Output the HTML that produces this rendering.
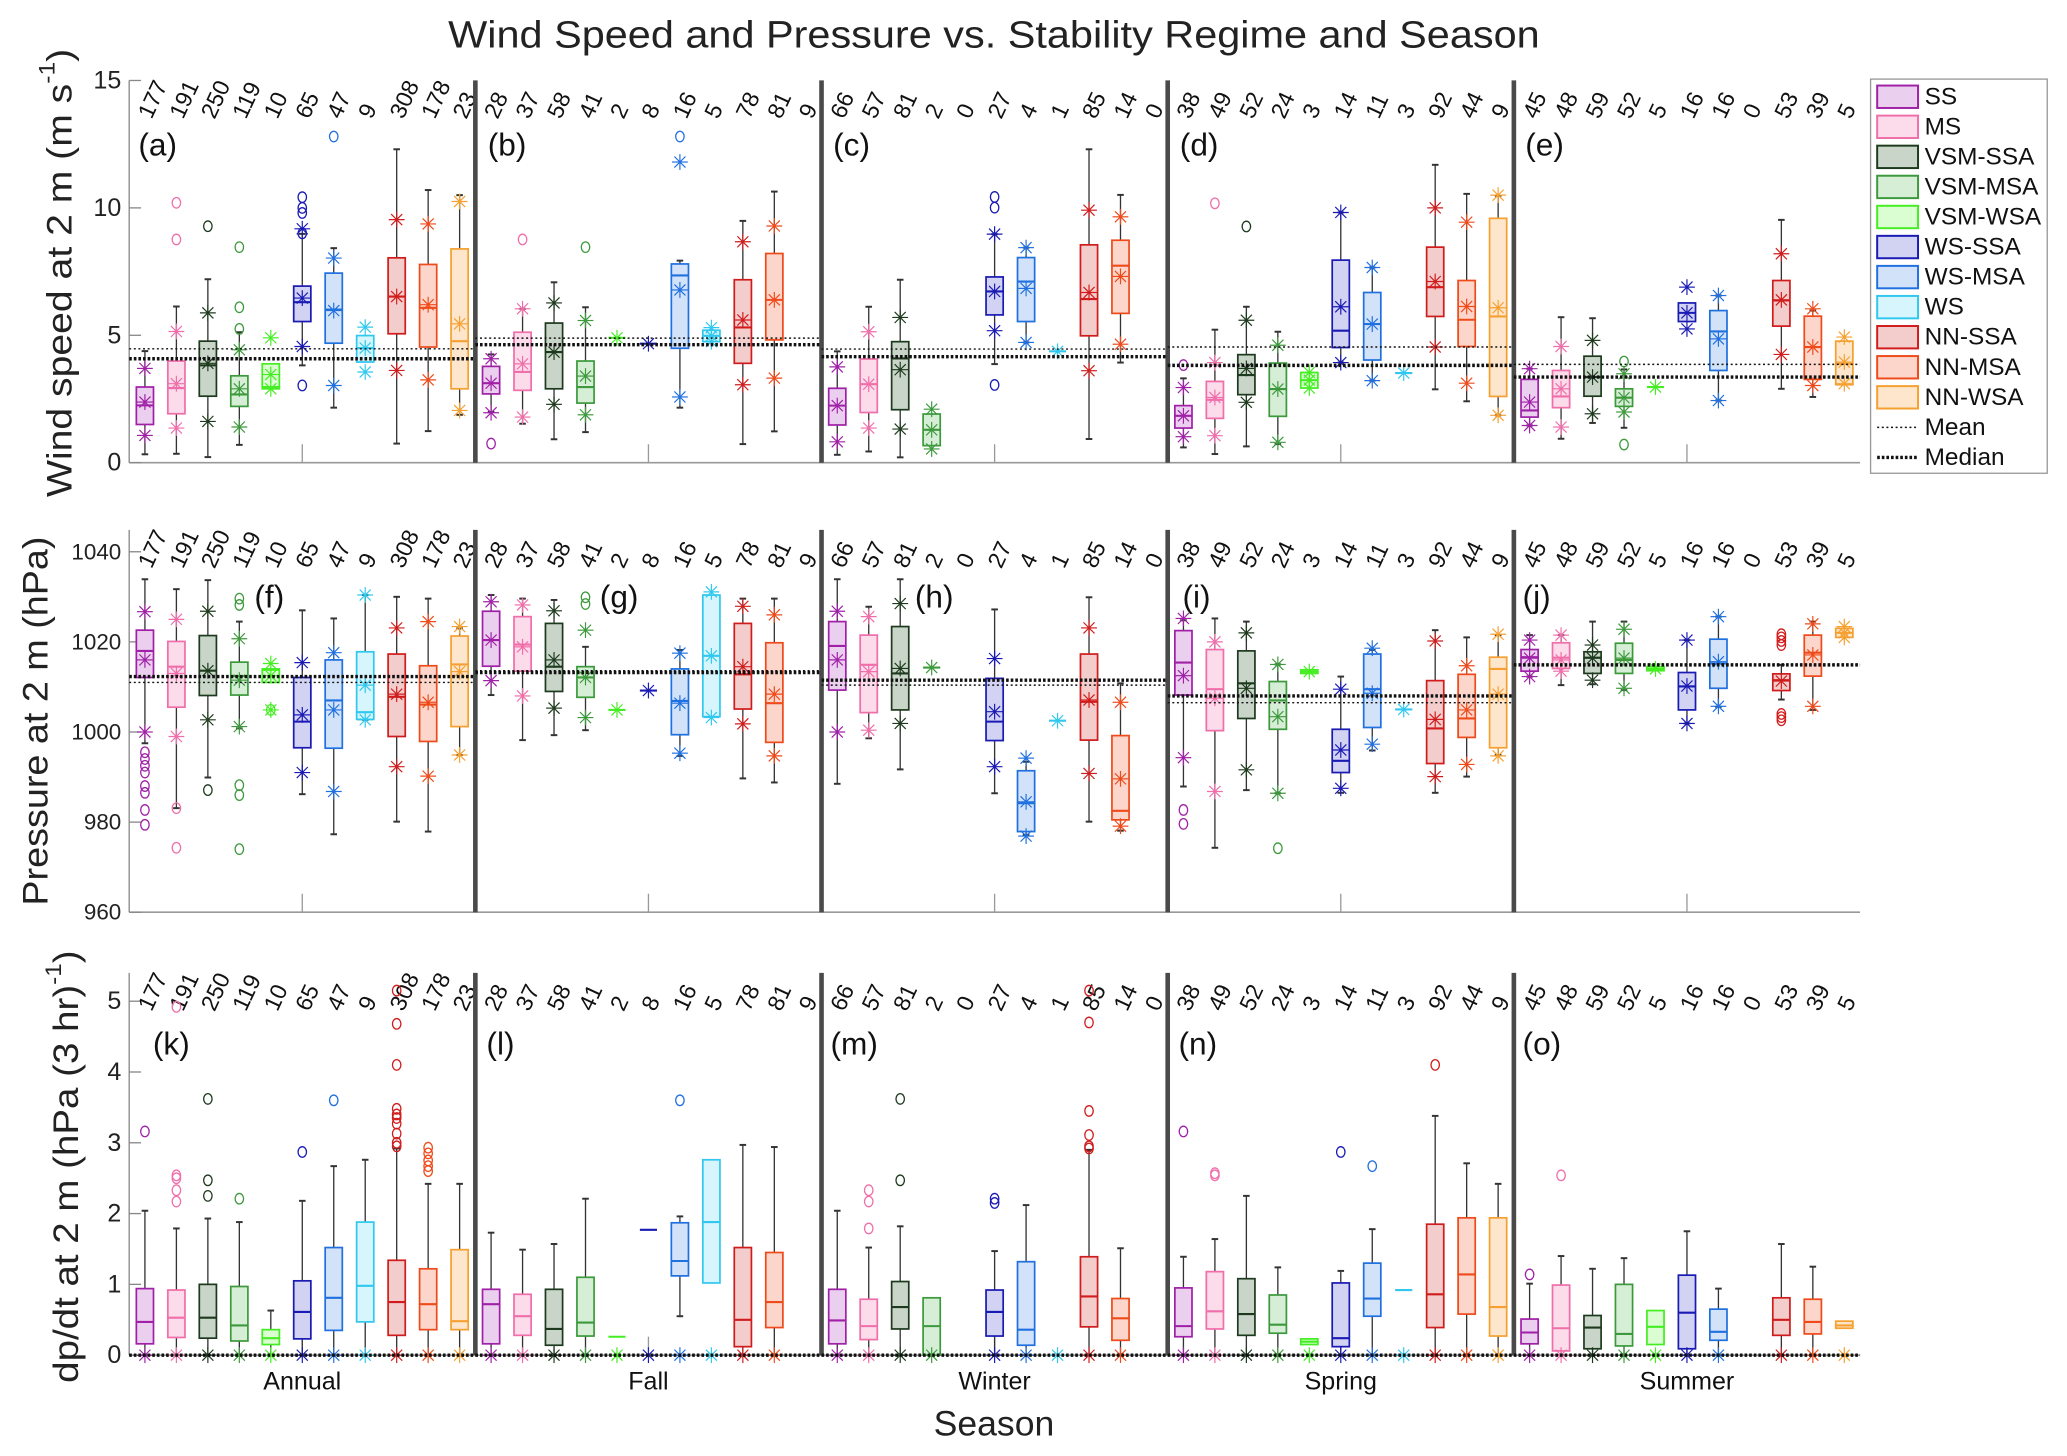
<!DOCTYPE html>
<html><head><meta charset="utf-8"><style>
html,body{margin:0;padding:0;background:#fff;}
svg{display:block;}
text{font-family:"Liberation Sans",sans-serif;}
</style></head><body>
<svg id="chart" xmlns="http://www.w3.org/2000/svg" width="2067" height="1456" viewBox="0 0 1568 1104.5" preserveAspectRatio="none">
<text x="754" y="36" text-anchor="middle" font-size="29" textLength="828" lengthAdjust="spacingAndGlyphs" fill="#222">Wind Speed and Pressure vs. Stability Regime and Season</text>
<text transform="translate(45,207) rotate(-90)" text-anchor="middle" dominant-baseline="central" font-size="27" textLength="340" lengthAdjust="spacingAndGlyphs" fill="#222">Wind speed at 2 m (m s<tspan baseline-shift="super" font-size="17">-1</tspan>)</text>
<text transform="translate(27,547) rotate(-90)" text-anchor="middle" dominant-baseline="central" font-size="27" textLength="280" lengthAdjust="spacingAndGlyphs" fill="#222">Pressure at 2 m (hPa)</text>
<text transform="translate(50,885) rotate(-90)" text-anchor="middle" dominant-baseline="central" font-size="27" textLength="328" lengthAdjust="spacingAndGlyphs" fill="#222">dp/dt at 2 m (hPa (3 hr)<tspan baseline-shift="super" font-size="17">-1</tspan>)</text>
<text x="754" y="1089" text-anchor="middle" font-size="27" fill="#222">Season</text>
<g id="plots"></g>
<g id="legend"></g>
</svg>
<script>
const n = null;
const seasons = ['Annual','Fall','Winter','Spring','Summer'];
const regimes = ['SS','MS','VSM-SSA','VSM-MSA','VSM-WSA','WS-SSA','WS-MSA','WS','NN-SSA','NN-MSA','NN-WSA'];
const counts = [
 [177,191,250,119,10,65,47,9,308,178,23],
 [28,37,58,41,2,8,16,5,78,81,9],
 [66,57,81,2,0,27,4,1,85,14,0],
 [38,49,52,24,3,14,11,3,92,44,9],
 [45,48,59,52,5,16,16,0,53,39,5]];
const panelLetters = [['a','b','c','d','e'],['f','g','h','i','j'],['k','l','m','n','o']];

// ---------- Wind speed ----------
const windQ1 = [
 [1.50,1.92,2.61,2.21,2.90,5.54,4.69,3.95,5.06,4.54,2.90],
 [2.70,2.84,2.90,2.34,n,n,4.49,4.75,3.90,4.82,n],
 [1.48,1.97,2.08,0.67,n,5.80,5.54,n,4.98,5.86,n],
 [1.36,1.74,2.67,1.82,2.93,4.52,4.03,n,5.74,4.56,2.60],
 [1.79,2.16,2.61,2.21,n,5.54,3.62,n,5.36,3.27,3.06]];
const windMed = [
 [2.25,2.93,3.82,2.68,2.97,6.30,6.01,4.50,6.52,6.08,4.77],
 [3.12,3.56,4.34,2.97,4.90,4.67,7.35,4.98,5.31,6.39,n],
 [2.24,3.08,4.09,1.29,n,6.72,7.11,4.37,6.42,7.73,n],
 [1.84,2.47,3.44,2.89,3.24,5.18,5.44,3.52,6.89,5.61,5.74],
 [2.05,2.60,3.36,2.55,2.97,5.88,5.15,n,6.37,4.54,3.88]];
const windQ3 = [
 [2.97,3.99,4.77,3.41,3.88,6.93,7.44,4.99,8.04,7.78,8.39],
 [3.78,5.12,5.48,3.99,n,n,7.80,5.20,7.18,8.21,n],
 [2.92,4.07,4.75,1.91,n,7.29,8.05,n,8.55,8.73,n],
 [2.24,3.19,4.24,3.91,3.54,7.95,6.68,n,8.46,7.15,9.59],
 [3.27,3.62,4.18,2.90,n,6.27,5.97,n,7.15,5.75,4.77]];
const windLo = [
 [0.33,0.35,0.22,0.70,n,3.82,2.16,n,0.75,1.24,1.88],
 [1.99,1.53,0.92,1.20,n,n,2.16,n,0.73,1.23,n],
 [0.31,0.44,0.21,n,n,3.87,4.72,n,0.93,3.93,n],
 [0.60,0.34,0.64,0.73,n,3.93,3.22,n,2.88,2.41,1.86],
 [1.46,0.94,1.56,1.37,n,n,2.44,n,2.90,2.58,n]];
const windHi = [
 [4.38,6.13,7.20,5.12,n,8.98,8.42,n,12.3,10.7,10.5],
 [4.25,6.04,7.08,6.10,n,n,7.93,n,9.49,10.64,n],
 [4.37,6.12,7.18,n,n,8.97,8.44,n,12.3,10.51,n],
 [3.31,5.22,6.12,5.14,n,9.82,7.66,n,11.69,10.55,10.48],
 [3.69,5.71,5.67,3.66,n,n,6.56,n,9.53,5.97,n]];
const windMean = [
 [2.38,3.10,3.90,2.90,3.46,6.46,5.97,4.50,6.52,6.20,5.45],
 [3.12,3.88,4.34,3.40,4.90,4.67,6.78,4.98,5.60,6.39,n],
 [2.24,3.08,3.65,1.29,n,6.72,6.84,4.37,6.68,7.31,n],
 [1.84,2.56,3.70,2.89,3.24,6.12,5.44,3.52,7.11,6.13,6.08],
 [2.38,2.90,3.36,2.55,2.97,5.88,4.86,n,6.39,4.54,3.95]];
const windPLo = [
 [1.07,1.36,1.62,1.40,2.90,4.56,3.03,3.56,3.62,3.25,2.05],
 [1.96,1.79,2.29,1.88,n,n,2.58,4.75,3.06,3.32,n],
 [0.82,1.36,1.32,0.54,n,5.18,4.72,n,3.61,4.65,n],
 [1.02,1.06,2.37,0.80,2.93,3.93,3.22,n,4.54,3.12,1.86],
 [1.46,1.40,1.92,1.99,n,5.25,2.44,n,4.25,3.03,3.10]];
const windPHi = [
 [3.70,5.15,5.88,4.43,4.90,9.18,8.03,5.32,9.54,9.37,10.25],
 [4.08,6.04,6.27,5.58,n,n,11.8,5.30,8.67,9.29,n],
 [3.76,5.14,5.70,2.10,n,8.97,8.44,n,9.91,9.65,n],
 [2.95,3.93,5.59,4.61,3.54,9.82,7.66,n,10.0,9.44,10.5],
 [3.69,4.56,4.80,3.49,n,6.89,6.56,n,8.20,6.04,4.93]];
const windOut = [
 [[],[10.2,8.76],[9.28],[8.46,6.1,5.25],[],[10.42,10.0,9.8,9.0,3.03],[12.8],[],[],[],[]],
 [[0.75],[8.76],[],[8.46],[],[],[12.8],[],[],[],[]],
 [[],[],[],[],[],[10.43,10.01,3.05],[],[],[],[],[]],
 [[3.83],[10.18],[9.27],[],[],[],[],[],[],[],[]],
 [[],[],[],[3.97,0.71],[],[],[],[],[],[],[]]];
const windMeanLine = [4.47,4.89,4.46,4.54,3.86];
const windMedianLine = [4.08,4.63,4.16,3.82,3.36];
const windTicks = [0,5,10,15];

// ---------- Pressure ----------
const presQ1 = [
 [1012.1,1005.5,1008.1,1008.2,1011,996.5,996.4,1002.8,999,997.9,1001.2],
 [1014.6,1013.5,1009,1007.7,n,n,999.4,1003.4,1005.1,997.7,n],
 [1009.3,1004.3,1004.9,n,n,998.1,977.9,n,998.2,980.5,n],
 [1008.2,1000.3,1003,1000.6,1013,991,1001,n,993,998.8,996.5],
 [1013.5,1014.1,1013,1013,1013.6,1004.9,1009.7,n,1009.2,1012.4,1021]];
const presMed = [
 [1018,1014.5,1013.6,1012.4,1013.8,1002.3,1007,1004.4,1007.8,1006.1,1015],
 [1020.4,1019.4,1014.5,1012.1,1004.9,1009.2,1006.9,1016.9,1012.8,1006.4,n],
 [1019.1,1014.9,1013,1014.3,n,1002.3,984.2,1002.5,1006.7,982.5,n],
 [1015.4,1009.5,1010.8,1007,1013.4,993.6,1009.5,1005,1000.8,1003,1014],
 [1016.6,1016.5,1016.5,1016,1014,1010.1,1015.2,n,1011.5,1017.6,1022]];
const presQ3 = [
 [1022.6,1020.1,1021.4,1015.5,1014,1012.1,1016,1017.8,1017.3,1014.7,1021.3],
 [1026.8,1025.6,1024.1,1014.5,n,n,1014,1030.4,1024.1,1019.8,n],
 [1024.5,1021.5,1023.4,n,n,1011.9,991.4,n,1017.3,999.2,n],
 [1022.5,1018.3,1018,1011.2,1013.8,1000.6,1017.3,n,1011.4,1012.8,1016.6],
 [1018.3,1019.8,1017.8,1019.7,1014.5,1013.2,1020.6,n,1012.9,1021.5,1023]];
const presLo = [
 [997.5,983.1,989.9,1000.8,n,986.2,977.3,1002.7,980.1,977.9,994.9],
 [1008.2,998.2,999.3,1000.4,n,n,994.7,n,989.7,988.8,n],
 [988.5,998.6,991.7,n,n,986.4,977.2,n,980.1,978.1,n],
 [987.9,974.3,987.1,986.4,n,986.5,995.9,n,986.5,990.1,994.9],
 [1012.3,1010.4,1010.6,1009.3,n,1001.9,1005.6,n,1007.2,1004.9,n]];
const presHi = [
 [1033.9,1031.7,1033.7,1024.5,n,1027,1025.2,1030.4,1030,1029.6,1023],
 [1030.4,1029.6,1029.3,1018.9,n,n,1018.2,n,1029.6,1029.6,n],
 [1033.9,1027.8,1033.9,n,n,1027.2,993.4,n,1029.9,1010.8,n],
 [1024.8,1025.2,1024.5,1015,n,1012.3,1018.2,n,1022.6,1021,1021.5],
 [1021.5,1021.5,1024.5,1024.5,n,1020.4,1025.6,n,1014.9,1024.5,n]];
const presMean = [
 [1016,1013,1013.6,1011.5,1012.5,1003.8,1004.9,1010.4,1008.4,1006.6,1013.4],
 [1020.4,1018.9,1016,1012.1,1004.9,1009.2,1006.4,1016.9,1014.5,1008.4,n],
 [1016,1013.4,1014.1,1014.3,n,1004.5,984.5,1002.5,1007.1,989.6,n],
 [1012.5,1007.5,1009.7,1003.4,1013.4,996,1008.6,1005,1002.8,1004.9,1008.4],
 [1016.4,1016,1016.4,1016.4,1014,1010.2,1015.6,n,1011.3,1017.1,1022]];
const presPLo = [
 [1000,999,1002.7,1001.2,1004.9,991,986.8,1002.7,992.3,990.2,994.9],
 [1011.4,1008,1005.3,1003.2,n,n,995.3,1003.2,1001.8,994.7,n],
 [1000,1000.4,1001.9,n,n,992.3,976.9,n,990.8,979.1,n],
 [994.3,986.8,991.6,986.4,n,987.5,997.3,n,990.1,992.8,994.7],
 [1012.3,1013.5,1011.5,1009.7,n,1001.9,1005.7,n,n,1005.7,1021]];
const presPHi = [
 [1026.7,1025,1026.8,1020.7,1015.2,1015.4,1017.6,1030.4,1023.1,1024.5,1023.4],
 [1028.9,1028.2,1026.9,1022.6,n,n,1017.5,1031.1,1027.9,1026,n],
 [1026.8,1025.6,1028.5,n,n,1016.3,994.2,n,1023.1,1006.6,n],
 [1025.2,1020,1022,1015,n,1009.5,1018.6,n,1020.2,1014.7,1021.7],
 [1020.4,1021.5,1019.3,1022.8,n,1020.4,1025.6,n,n,1024,1023.4]];
const presOut = [
 [[995.5,994,992.5,991,988,986.5,982.7,979.4],[983.1,974.3],[987.1],[1029.6,1028.2,988.2,986,974],[1004.9],[],[],[],[],[],[]],
 [[],[],[],[1029.9,1028.4],[],[],[],[],[],[],[]],
 [[],[],[],[],[],[],[],[],[],[],[]],
 [[982.7,979.6],[],[],[974.2],[],[],[],[],[],[],[]],
 [[],[],[],[],[],[],[],[],[1021.7,1021,1020.2,1019.3,1004,1003.3,1002.6],[],[]]];
const presMeanLine = [1011,1013.6,1010.4,1006.5,1014.9];
const presMedianLine = [1012.3,1013.2,1011.5,1008,1014.9];
const presTicks = [960,980,1000,1020,1040];

// ---------- dp/dt ----------
const dpQ1 = [
 [0.16,0.25,0.24,0.2,0.15,0.23,0.35,0.47,0.28,0.36,0.36],
 [0.16,0.28,0.14,0.27,n,n,1.12,1.02,0.12,0.39,n],
 [0.16,0.22,0.37,0,n,0.27,0.14,n,0.4,0.21,n],
 [0.26,0.37,0.28,0.31,0.15,0.12,0.55,n,0.39,0.58,0.27],
 [0.16,0.06,0.09,0.13,0.15,0.09,0.21,n,0.28,0.3,0.38]];
const dpMed = [
 [0.47,0.53,0.53,0.42,0.24,0.61,0.81,0.98,0.75,0.72,0.48],
 [0.72,0.55,0.37,0.46,0.26,1.77,1.33,1.88,0.5,0.75,n],
 [0.49,0.41,0.68,0.41,n,0.61,0.36,n,0.83,0.52,n],
 [0.41,0.62,0.58,0.43,0.19,0.24,0.8,0.92,0.86,1.14,0.68],
 [0.32,0.38,0.39,0.3,0.4,0.6,0.33,n,0.5,0.47,0.42]];
const dpQ3 = [
 [0.94,0.92,1.0,0.97,0.36,1.05,1.52,1.88,1.34,1.22,1.49],
 [0.93,0.86,0.93,1.1,n,n,1.87,2.76,1.52,1.45,n],
 [0.93,0.79,1.04,0.81,n,0.92,1.32,n,1.39,0.8,n],
 [0.95,1.18,1.08,0.85,0.23,1.02,1.3,n,1.85,1.94,1.94],
 [0.51,0.99,0.56,1.0,0.63,1.13,0.65,n,0.81,0.79,0.48]];
const dpLo = [
 [0,0,0,0,0,0,0,0,0,0,0],
 [0,0,0,0,n,n,0.55,n,0,0,n],
 [0,0,0,n,n,0,0,n,0,0,n],
 [0,0,0,0,n,0,0,n,0,0,0],
 [0,0,0,0,n,0,0,n,0,0,n]];
const dpHi = [
 [2.04,1.79,1.93,1.88,0.63,2.18,2.67,2.76,2.92,2.42,2.42],
 [1.73,1.49,1.57,2.21,n,n,1.96,n,2.97,2.94,n],
 [2.04,1.52,1.82,n,n,1.47,2.12,n,2.9,1.51,n],
 [1.39,1.64,2.25,1.24,n,1.19,1.78,n,3.38,2.71,2.42],
 [1.01,1.4,1.22,1.37,n,1.75,0.94,n,1.57,1.25,n]];
const dpPLo = [
 [0,0,0,0,0,0,0,0,0,0,0],
 [0,0,0,0,0,0,0,0,0,0,n],
 [0,0,0,0,n,0,0,0,0,0,n],
 [0,0,0,0,0,0,0,0,0,0,0],
 [0,0,0,0,0,0,0,n,0,0,0]];
const dpOut = [
 [[3.16],[2.54,2.5,2.33,2.17,4.92],[3.62,2.47,2.25],[2.21],[],[2.87],[3.6],[],[2.95,3.0,3.13,3.27,3.35,3.4,3.48,4.1,4.68,5.15],[2.6,2.67,2.75,2.85,2.93],[]],
 [[],[],[],[],[],[],[3.6],[],[],[],[]],
 [[],[2.33,2.17,1.79],[3.62,2.47],[],[],[2.21,2.15],[],[],[2.92,2.95,3.11,3.45,4.7,5.15],[],[]],
 [[3.16],[2.57,2.54],[],[],[],[2.87],[2.67],[],[4.1],[],[]],
 [[1.14],[2.54],[],[],[],[],[],[],[],[],[]]];
const dpMeanLine = [0,0,0,0,0];
const dpMedianLine = [0,0,0,0,0];
const dpTicks = [0,1,2,3,4,5];

// ---------- styles ----------
const edge = ['#a020a8','#f06eaa','#1e3a1e','#3c9a3c','#44ee22','#1a1ab4','#2070e0','#30c8ee','#d01c1c','#ee4a1a','#f5a030'];
const fill = ['#ead0ee','#fcdbea','#c9d5c9','#d6edd6','#dafdd2','#d2d2f2','#d2e3f9','#d6f5fd','#f3cccc','#fdd6cb','#fde6cc'];
const NS = 'http://www.w3.org/2000/svg';
const X0 = 98, SW = 262.6, SLOT = SW/11, BW = 6.5;
const rows = [
 {name:'wind', top:61, y:v=>351-v*19.33, base:351, q1:windQ1, med:windMed, q3:windQ3, lo:windLo, hi:windHi, mean:windMean, pLo:windPLo, pHi:windPHi, out:windOut, mLine:windMeanLine, mdLine:windMedianLine, ticks:windTicks, letterY:118, letterX:[105,370,632,895,1157]},
 {name:'pressure', top:402, y:v=>692-(v-960)*3.418, base:692, q1:presQ1, med:presMed, q3:presQ3, lo:presLo, hi:presHi, mean:presMean, pLo:presPLo, pHi:presPHi, out:presOut, mLine:presMeanLine, mdLine:presMedianLine, ticks:presTicks, letterY:461, letterX:[193,455,694,897,1155]},
 {name:'dpdt', top:738, y:v=>1028-v*53.7, base:1028, q1:dpQ1, med:dpMed, q3:dpQ3, lo:dpLo, hi:dpHi, mean:null, pLo:dpPLo, pHi:null, out:dpOut, mLine:dpMeanLine, mdLine:dpMedianLine, ticks:dpTicks, letterY:800, letterX:[116,369,630,894,1155]}
];
function mk(tag, attrs, parent){ const e=document.createElementNS(NS,tag); for(const k in attrs) e.setAttribute(k,attrs[k]); parent.appendChild(e); return e; }
function star(g,cx,cy,c){
  const s=mk('g',{stroke:c,'stroke-width':0.9},g);
  
  
  const r=6;
  mk('line',{x1:cx-r,y1:cy,x2:cx+r,y2:cy},s);
  mk('line',{x1:cx,y1:cy-r,x2:cx,y2:cy+r},s);
  mk('line',{x1:cx-r*0.7,y1:cy-r*0.7,x2:cx+r*0.7,y2:cy+r*0.7},s);
  mk('line',{x1:cx-r*0.7,y1:cy+r*0.7,x2:cx+r*0.7,y2:cy-r*0.7},s);
  mk('circle',{cx:cx,cy:cy,r:1,fill:c,stroke:'none'},s);
}
const plots=document.getElementById('plots');
rows.forEach((R,ri)=>{
  const g=mk('g',{},plots);
  
  
  const ax=mk('line',{x1:X0,y1:R.top,x2:X0,y2:R.base,stroke:'#888','stroke-width':1},g);
  
  
  const bx=mk('line',{x1:X0,y1:R.base,x2:X0+5*SW,y2:R.base,stroke:'#999','stroke-width':1.2},g);
  
  
  R.ticks.forEach(t=>{
    const yy=R.y(t);
    const tl=mk('line',{x1:X0,y1:yy,x2:X0+9,y2:yy,stroke:'#888','stroke-width':1},g);
    
    
    const tx=mk('text',{x:X0-6,y:yy,'text-anchor':'end','dominant-baseline':'central','font-size':ri==1?17:19,fill:'#222'},g);
    
    
    tx.textContent=t;
  });
  for(let s=0;s<5;s++){
    const sl=X0+s*SW;
    const ct=mk('line',{x1:sl+5.5*SLOT,y1:R.base,x2:sl+5.5*SLOT,y2:R.base-14,stroke:'#999','stroke-width':1},g);
    
    
    if(s>0){
      const dv=mk('line',{x1:sl,y1:R.top,x2:sl,y2:R.base,stroke:'#4a4a4a','stroke-width':3.5},g);
      
      
    }
    const lt=mk('text',{x:R.letterX[s],y:R.letterY,'font-size':24,fill:'#111'},g);
    
    
    lt.textContent='('+panelLetters[ri][s]+')';
    for(let i=0;i<11;i++){
      const cx=sl+(i+0.5)*SLOT, c=edge[i];
      const ct2=mk('text',{transform:`translate(${cx+5},${R.top+30}) rotate(-65)`,'font-size':17.5,fill:'#111'},g);
      
      
      ct2.textContent=counts[s][i];
      const bg=mk('g',{},g);
      
      
      const q1=R.q1[s][i], q3=R.q3[s][i], md=R.med[s][i], lo=R.lo[s][i], hi=R.hi[s][i];
      if(q1!==null && q3!==null){
        if(hi!==null){
          const w=mk('line',{x1:cx,y1:R.y(q3),x2:cx,y2:R.y(hi),stroke:'#333','stroke-width':1},bg);
          
          
          const cp=mk('line',{x1:cx-2.5,y1:R.y(hi),x2:cx+2.5,y2:R.y(hi),stroke:'#333','stroke-width':1.5},bg);
          
          
        }
        if(lo!==null){
          const w=mk('line',{x1:cx,y1:R.y(q1),x2:cx,y2:R.y(lo),stroke:'#333','stroke-width':1},bg);
          
          
          const cp=mk('line',{x1:cx-2.5,y1:R.y(lo),x2:cx+2.5,y2:R.y(lo),stroke:'#333','stroke-width':1.5},bg);
          
          
        }
        const rc=mk('rect',{x:cx-BW,y:R.y(q3),width:2*BW,height:Math.max(1,R.y(q1)-R.y(q3)),fill:fill[i],stroke:c,'stroke-width':1.3},bg);
        
        
      }
      if(md!==null){
        const ml=mk('line',{x1:cx-BW,y1:R.y(md),x2:cx+BW,y2:R.y(md),stroke:c,'stroke-width':1.6},bg);
        
        
      }
      R.out[s][i].forEach(o=>{
        const oc=mk('ellipse',{cx:cx,cy:R.y(o),rx:3.2,ry:4,fill:'none',stroke:c,'stroke-width':1},bg);
        
        
      });
      if(R.mean && R.mean[s][i]!==null) star(bg,cx,R.y(R.mean[s][i]),c);
      if(R.pLo && R.pLo[s][i]!==null) star(bg,cx,R.y(R.pLo[s][i]),c);
      if(R.pHi && R.pHi[s][i]!==null) star(bg,cx,R.y(R.pHi[s][i]),c);
    }
    const mn=mk('line',{x1:sl,y1:R.y(R.mLine[s]),x2:sl+SW,y2:R.y(R.mLine[s]),stroke:'#111','stroke-width':1.1,'stroke-dasharray':'1.5,2'},g);
    
    
    const mdl=mk('line',{x1:sl,y1:R.y(R.mdLine[s]),x2:sl+SW,y2:R.y(R.mdLine[s]),stroke:'#111','stroke-width':2.6,'stroke-dasharray':'2,1.5'},g);
    
    
    if(ri==2){
      const sx=mk('text',{x:sl+5.5*SLOT,y:1054,'text-anchor':'middle','font-size':19,fill:'#111'},g);
      
      
      sx.textContent=seasons[s];
    }
  }
});
const L=document.getElementById('legend');
const lb=mk('rect',{x:1419,y:60,width:134,height:299,fill:'#fff',stroke:'#999','stroke-width':1},L);


regimes.forEach((r,i)=>{
  const cy=73.4+i*22.8;
  const eg=mk('g',{},L);
  
  
  mk('rect',{x:1424,y:cy-8.5,width:31,height:17,fill:fill[i],stroke:edge[i],'stroke-width':1.5},eg);
  const t=mk('text',{x:1460,y:cy,'dominant-baseline':'central','font-size':18.5,fill:'#111'},eg);
  t.textContent=r;
});
[['Mean',1.1,'1.5,2'],['Median',2.6,'2,1.5']].forEach((d,j)=>{
  const cy=73.4+(11+j)*22.8;
  const eg=mk('g',{},L);
  
  
  mk('line',{x1:1424,y1:cy,x2:1455,y2:cy,stroke:'#111','stroke-width':d[1],'stroke-dasharray':d[2]},eg);
  const t=mk('text',{x:1460,y:cy,'dominant-baseline':'central','font-size':18.5,fill:'#111'},eg);
  t.textContent=d[0];
});
</script>
</body></html>
